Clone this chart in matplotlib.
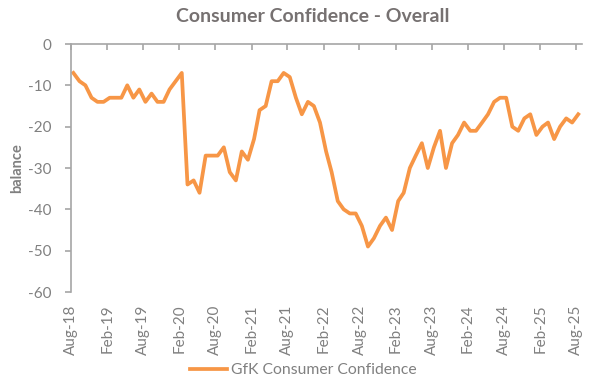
import pandas as pd
import matplotlib
matplotlib.use("Agg")
import matplotlib.pyplot as plt

# GfK consumer confidence, monthly Aug-18 .. Aug-25
values = [-7, -9, -10, -13, -14, -14, -13, -13, -13, -10, -13, -11,
          -14, -12, -14, -14, -11, -9, -7, -34, -33, -36, -27, -27,
          -27, -25, -31, -33, -26, -28, -23, -16, -15, -9, -9, -7,
          -8, -13, -17, -14, -15, -19, -26, -31, -38, -40, -41, -41,
          -44, -49, -47, -44, -42, -45, -38, -36, -30, -27, -24, -30,
          -25, -21, -30, -24, -22, -19, -21, -21, -19, -17, -14, -13,
          -13, -20, -21, -18, -17, -22, -20, -19, -23, -20, -18, -19,
          -17]
months = pd.date_range("2018-08-01", periods=len(values), freq="MS") + pd.Timedelta(days=12)
tick_dates = pd.date_range("2018-08-01", "2025-08-01", freq="6MS")
tick_labels = [d.strftime("%b-%y") for d in tick_dates]
y_ticks = [0, -10, -20, -30, -40, -50, -60]

grey = "#808080"
axis_grey = "#A6A6A6"
orange = "#F79646"

plt.rcParams["font.family"] = ["Lato", "DejaVu Sans"]

fig = plt.figure(figsize=(6, 3.88), dpi=100)
ax = fig.add_axes([71/600, 1 - 292/388, (582 - 71)/600, (292 - 44)/388])

ax.plot(months, values, color=orange, lw=2.7, solid_joinstyle="round",
        label="GfK Consumer Confidence")

ax.set_ylim(-60, 0)
ax.set_yticks(y_ticks)
ax.set_yticklabels([str(v) for v in y_ticks])
ax.set_xlim(pd.Timestamp("2018-08-01"), pd.Timestamp("2025-09-01"))
ax.set_xticks(tick_dates)
ax.set_xticklabels(tick_labels, rotation=90)

for s in ["right", "bottom"]:
    ax.spines[s].set_visible(False)
for s in ["top", "left"]:
    ax.spines[s].set_color(axis_grey)
    ax.spines[s].set_linewidth(1.2)

ax.tick_params(axis="x", top=True, bottom=False, labeltop=False, labelbottom=True,
               direction="in", length=4, width=1.2, color=axis_grey,
               labelcolor=grey, labelsize=11, pad=9)
ax.tick_params(axis="y", direction="out", length=4, width=1.2, color=axis_grey,
               labelcolor=grey, labelsize=11, pad=10)

ax.set_ylabel("balance", color=grey, fontsize=10.5, fontweight="bold", labelpad=3)

fig.text(313/600, 1 - 17/388, "Consumer Confidence - Overall", ha="center", va="center",
         fontsize=14, fontweight="bold", color="#767171")

fig.legend(loc="center", bbox_to_anchor=(303/600, 1 - 370/388), frameon=False,
           handlelength=2.4, handletextpad=0.2, fontsize=11.3, labelcolor=grey)

fig.savefig("out.png", dpi=100)
